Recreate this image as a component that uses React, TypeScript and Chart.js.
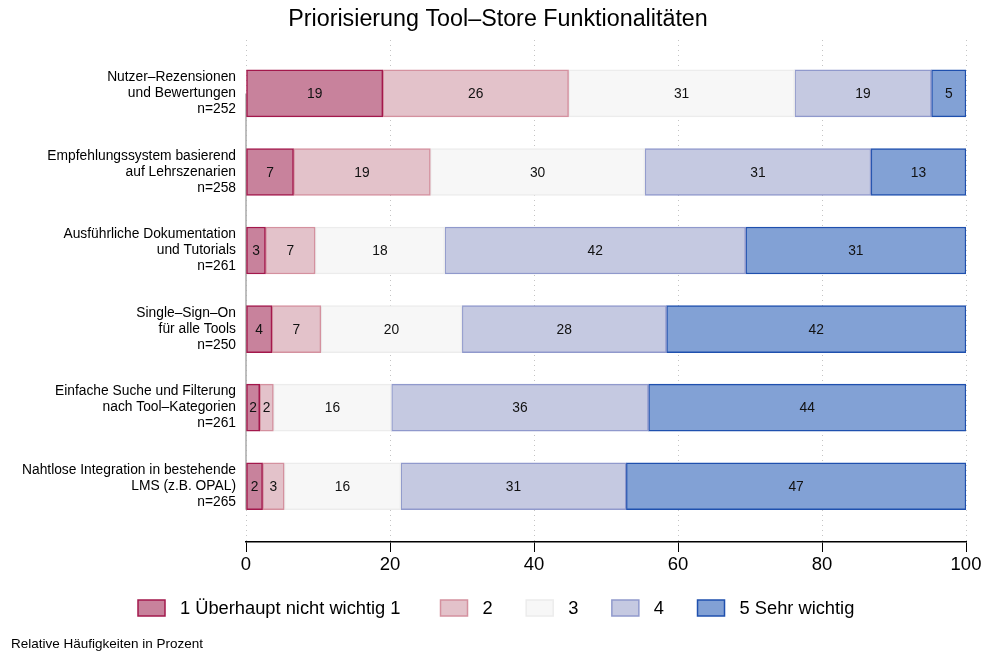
import React, { useEffect, useRef } from 'react';
import { Chart, registerables } from 'chart.js';

Chart.register(...registerables);

const chartTitle = 'Priorisierung Tool–Store Funktionalitäten';
const captionText = 'Relative Häufigkeiten in Prozent';

const categories: string[][] = [
  ['Nutzer–Rezensionen', 'und Bewertungen', 'n=252'],
  ['Empfehlungssystem basierend', 'auf Lehrszenarien', 'n=258'],
  ['Ausführliche Dokumentation', 'und Tutorials', 'n=261'],
  ['Single–Sign–On', 'für alle Tools', 'n=250'],
  ['Einfache Suche und Filterung', 'nach Tool–Kategorien', 'n=261'],
  ['Nahtlose Integration in bestehende', 'LMS (z.B. OPAL)', 'n=265'],
];

const seriesNames = ['1 Überhaupt nicht wichtig 1', '2', '3', '4', '5 Sehr wichtig'];

const s1 = [19.0, 6.6, 2.7, 3.6, 1.9, 2.3];
const s2 = [25.8, 19.0, 6.9, 6.8, 1.9, 3.0];
const s3 = [31.4, 29.8, 18.0, 19.6, 16.4, 16.2];
const s4 = [19.0, 31.4, 41.8, 28.4, 35.7, 31.3];
const s5 = [4.8, 13.2, 30.6, 41.6, 44.1, 47.2];

const xTicks = [0, 20, 40, 60, 80, 100];

const fills = ['#C8829C', '#E3C2CA', '#F7F7F7', '#C5C9E1', '#82A1D5'];
const borders = ['#A3184C', '#D4919F', '#ECECEC', '#9099CC', '#1F50AE'];

const FONT = "'Liberation Sans', Arial, Helvetica, sans-serif";

export default function App() {
  const ref = useRef<HTMLCanvasElement | null>(null);

  useEffect(() => {
    if (!ref.current) return;
    const series = [s1, s2, s3, s4, s5];

    const decor = {
      id: 'decor',
      beforeDatasetsDraw(chart: any) {
        const { ctx, scales } = chart;
        const x0 = scales.x.getPixelForValue(0);
        ctx.save();
        ctx.strokeStyle = '#AAAAAA';
        ctx.lineWidth = 1.5;
        ctx.beginPath();
        ctx.moveTo(x0, scales.y.getPixelForValue(0));
        ctx.lineTo(x0, scales.y.getPixelForValue(categories.length - 1 + 0.3));
        ctx.stroke();
        ctx.restore();
      },
      afterDatasetsDraw(chart: any) {
        const { ctx } = chart;
        ctx.save();
        ctx.font = `13.8px ${FONT}`;
        ctx.fillStyle = '#111';
        ctx.textAlign = 'center';
        ctx.textBaseline = 'middle';
        chart.data.datasets.forEach((ds: any, di: number) => {
          const meta = chart.getDatasetMeta(di);
          meta.data.forEach((el: any, i: number) => {
            const v = ds.data[i].x;
            const cx = (el.x + el.base) / 2;
            ctx.fillText(String(Math.round(v)), cx, el.y + 1);
          });
        });
        ctx.restore();
      },
      afterDraw(chart: any) {
        const { ctx } = chart;
        ctx.save();
        // title
        ctx.font = `23.3px ${FONT}`;
        ctx.fillStyle = '#000';
        ctx.textAlign = 'center';
        ctx.textBaseline = 'alphabetic';
        ctx.fillText(chartTitle, 498, 26);
        // legend
        ctx.font = `18.3px ${FONT}`;
        const boxW = 27;
        const boxH = 16;
        const gapText = 15;
        const gapItem = 33.5;
        const widths = seriesNames.map((n) => ctx.measureText(n).width);
        let x = 138;
        const cy = 608;
        ctx.textAlign = 'left';
        ctx.textBaseline = 'middle';
        seriesNames.forEach((n, i) => {
          ctx.fillStyle = fills[i];
          ctx.fillRect(x, cy - boxH / 2, boxW, boxH);
          ctx.strokeStyle = borders[i];
          ctx.lineWidth = 1.5;
          ctx.strokeRect(x, cy - boxH / 2, boxW, boxH);
          ctx.fillStyle = '#000';
          ctx.fillText(n, x + boxW + gapText, cy + 1);
          x += boxW + gapText + widths[i] + (i === 0 ? 40 : gapItem);
        });
        // caption
        ctx.font = `13.5px ${FONT}`;
        ctx.textAlign = 'left';
        ctx.textBaseline = 'alphabetic';
        ctx.fillStyle = '#000';
        ctx.fillText(captionText, 11, 648);
        ctx.restore();
      },
    };

    const chart = new Chart(ref.current, {
      type: 'bar',
      data: {
        datasets: series.map((vals, si) => ({
          label: seriesNames[si],
          data: vals.map((v, ci) => ({ x: v, y: ci })),
          backgroundColor: fills[si],
          borderColor: borders[si],
          borderWidth: 1.5,
          borderSkipped: false,
          barThickness: 47,
        })),
      } as any,
      options: {
        indexAxis: 'y',
        animation: false,
        responsive: false,
        maintainAspectRatio: false,
        layout: { padding: { top: 40, right: 18, left: 0, bottom: 70 } },
        plugins: {
          legend: { display: false },
          title: { display: false },
          tooltip: { enabled: false },
        },
        scales: {
          x: {
            type: 'linear',
            stacked: true,
            min: 0,
            max: 100,
            afterBuildTicks: (scale: any) => {
              scale.ticks = xTicks.map((v) => ({ value: v }));
            },
            afterFit: (scale: any) => {
              scale.height = 40;
            },
            grid: {
              display: true,
              color: '#C4C4C4',
              lineWidth: 1,
              drawTicks: true,
              tickLength: 10,
              tickColor: '#000',
              tickWidth: 1,
              tickBorderDash: [],
            } as any,
            border: { display: true, color: '#000', width: 1.5, dash: [1, 4] },
            ticks: {
              color: '#000',
              font: { family: FONT, size: 18.5 },
              padding: 2,
              maxRotation: 0,
              autoSkip: false,
            },
          },
          y: {
            type: 'linear',
            stacked: true,
            reverse: true,
            offset: false,
            min: -0.68,
            max: 5.71,
            afterBuildTicks: (scale: any) => {
              scale.ticks = categories.map((_, i) => ({ value: i }));
            },
            afterFit: (scale: any) => {
              scale.width = 246;
            },
            grid: { display: false, drawTicks: false, offset: false },
            border: { display: false },
            ticks: {
              color: '#000',
              padding: 10,
              autoSkip: false,
              font: { family: FONT, size: 13.8, lineHeight: 16 / 13.8 },
              callback: (v: any) => categories[Math.round(Number(v))] ?? '',
            },
          },
        },
      } as any,
      plugins: [decor],
    });

    return () => chart.destroy();
  }, []);

  return (
    <div style={{ position: 'fixed', left: 0, top: 0, width: 984, height: 652, background: '#fff' }}>
      <canvas ref={ref} width={984} height={652} style={{ width: 984, height: 652, display: 'block' }} />
    </div>
  );
}
